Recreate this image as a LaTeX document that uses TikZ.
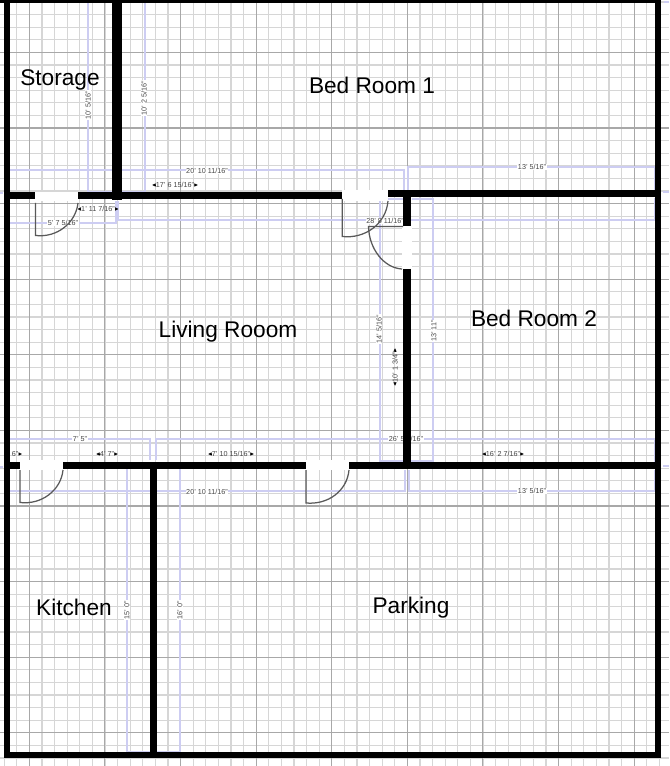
\documentclass[tikz,border=0pt]{standalone}
\usepackage{fontspec}
\setmainfont{Liberation Sans}
\usepackage{xcolor}
\usetikzlibrary{positioning,arrows.meta}
\definecolor{dimblue}{RGB}{205,205,242}
\definecolor{dimtext}{RGB}{70,70,70}

\begin{document}
\begin{tikzpicture}[
  x=0.02cm, y=-0.02cm,
  minorline/.style={draw=gray!32, line width=0.24mm},
  majorline/.style={draw=gray!68, line width=0.22mm},
  dimline/.style={draw=dimblue, line width=0.24mm},
  dimlabel/.style={fill=white, inner sep=0.3pt, text=dimtext, font=\fontsize{4.1}{5}\selectfont},
  dimtag/.style={dimlabel, fill=none},
  dimtip/.style={-{Latex[length=0.7mm,width=0.7mm]}, black, line width=0.1mm},
  wall/.style={draw=black, line width=1.4mm},
  opening/.style={fill=white, draw=none},
  swing/.style={draw=gray!70!black, line width=0.25mm},
  room/.style={font=\fontsize{12.9}{15}\selectfont, inner sep=0pt}
]
  \useasboundingbox (0,0) rectangle (669,766);
  \clip (0,0) rectangle (669,766);
  \fill[white] (0,0) rectangle (669,766);

  % grid
  \foreach \k in {0,...,53} {
    \draw[minorline] ({4.1+12.6*\k},0) -- ({4.1+12.6*\k},766);
  }
  \foreach \k in {0,...,60} {
    \draw[minorline] (0,{2+12.6*\k}) -- (669,{2+12.6*\k});
  }
  \foreach \k in {0,...,8} {
    \draw[majorline] ({29.3+75.6*\k},0) -- ({29.3+75.6*\k},766);
  }
  \foreach \k in {0,...,9} {
    \draw[majorline] (0,{52.4+75.6*\k}) -- (669,{52.4+75.6*\k});
  }

  % dimension lines
  \draw[dimline] (115,2) -- (88,2) -- (88,192) -- (112,192);
  \draw[dimline] (122,2) -- (145,2) -- (145,192) -- (122,192);
  \draw[dimline] (10,170) -- (115,170);
  \draw[dimline] (122,170) -- (404,170) -- (404,190);
  \draw[dimline] (408,190) -- (408,167) -- (655,167) -- (655,190);
  \draw[dimline] (10,223) -- (116,223) -- (116,201);
  \draw[dimline] (118,201) -- (118,220) -- (655,220) -- (655,198);
  \draw[dimline] (403,199) -- (380,199) -- (380,461) -- (403,461);
  \draw[dimline] (412,199) -- (433,199) -- (433,461) -- (411,461);
  \draw[dimline] (10,439) -- (150,439) -- (150,460);
  \draw[dimline] (156,460) -- (156,439) -- (655,439) -- (655,462);
  \draw[dimline] (10,491) -- (405,491) -- (405,470);
  \draw[dimline] (409,470) -- (409,491) -- (655,491) -- (655,470);
  \draw[dimline] (150,468) -- (127,468) -- (127,752) -- (150,752);
  \draw[dimline] (157,468) -- (180,468) -- (180,752) -- (157,752);
  \draw[dimline] (664,2) -- (669,2);
  \draw[dimline] (663,192) -- (669,192);
  \draw[dimline] (663,466) -- (669,466);
  \draw[dimline] (0,193) -- (3,193);
  \draw[dimline] (0,467) -- (3,467);

  % dimension labels
  \node[dimlabel, rotate=90] (storeh) at (88,105) {10' 5/16"};
  \node[dimlabel, rotate=90] (bedoneh) at (144,98) {10' 2 5/16"};
  \node[dimlabel] (topw) at (207,171) {20' 10 11/16"};
  \node[dimlabel] (bedonew) at (532,167) {13' 5/16"};
  \node[dimlabel] (storew) at (63,223) {5' 7 5/16"};
  \node[dimlabel] (midw) at (385,221) {28' 8 11/16"};
  \node[dimlabel, rotate=90] (livh) at (379,329) {14' 5/16"};
  \node[dimlabel, rotate=90] (bedtwoh) at (434,331) {13' 11"};
  \node[dimlabel] (lowa) at (80,439) {7' 5"};
  \node[dimlabel] (lowb) at (406,439) {26' 5 7/16"};
  \node[dimlabel] (lowc) at (207,492) {20' 10 11/16"};
  \node[dimlabel] (lowd) at (532,491) {13' 5/16"};
  \node[dimlabel, rotate=90] (kith) at (127,610) {15' 0"};
  \node[dimlabel, rotate=90] (parkh) at (180,610) {16' 0"};

  % measured spans
  \node[dimtag] (spana) at (175,185) {17' 6 15/16"};
  \node[dimtag] (spanb) at (98,209) {1' 11 7/16"};
  \node[dimtag] (spanc) at (15,454) {6"};
  \node[dimtag] (spand) at (107,454) {4' 7"};
  \node[dimtag] (spane) at (231,454) {7' 10 15/16"};
  \node[dimtag] (spanf) at (503,454) {16' 2 7/16"};
  \node[dimtag, rotate=90] (spang) at (395,367) {10' 1 3/4"};
  \foreach \n in {spana,spanb,spand,spane,spanf} {
    \draw[dimtip] (\n.west) -- ++(-3,0);
    \draw[dimtip] (\n.east) -- ++(3,0);
  }
  \draw[dimtip] (spanc.east) -- ++(3,0);
  \draw[dimtip] (spang.east) -- ++(0,-3);
  \draw[dimtip] (spang.west) -- ++(0,3);

  % door openings
  \fill[opening] (35,192) rectangle (78,201);
  \fill[opening] (342,190) rectangle (388,201);
  \fill[opening] (402,226) rectangle (412,269);
  \fill[opening] (20,460) rectangle (63,470);
  \fill[opening] (306,460) rectangle (349,470);

  % walls
  \draw[wall, line width=1.2mm] (7,-3) -- (7,757);
  \draw[wall, line width=1.2mm] (-3,0) -- (661,0);
  \draw[wall, line width=1.2mm] (658,-3) -- (658,757);
  \draw[wall, line width=1.2mm] (4,754.5) -- (661,754.5);
  \draw[wall, line width=2mm] (117,0) -- (117,200);
  \draw[wall] (4,196) -- (35,196);
  \draw[wall] (78,196) -- (342,196);
  \draw[wall] (388,194) -- (658,194);
  \draw[wall, line width=1.6mm] (407,190.5) -- (407,226);
  \draw[wall, line width=1.6mm] (407,269) -- (407,469);
  \draw[wall] (4,465.5) -- (20,465.5);
  \draw[wall] (63,465.5) -- (306,465.5);
  \draw[wall] (349,465.5) -- (661,465.5);
  \draw[wall] (153.5,462) -- (153.5,757);

  % door swings
  \draw[swing] (35.5,203) -- (35.5,235.5) .. controls (58,238) and (76,222) .. (78,203);
  \draw[swing] (342.3,199) -- (342.3,236.5) .. controls (365,239) and (386,224) .. (388,201);
  \draw[swing] (403,226.5) -- (368.5,226.5) .. controls (369,249) and (384,268) .. (402,269);
  \draw[swing] (20,470) -- (20,502.5) .. controls (42,505) and (61,490) .. (63,470);
  \draw[swing] (306,470) -- (306,503) .. controls (328,505) and (347,491) .. (349,470);

  % rooms
  \node[room] (storage) at (60,80) {Storage};
  \node[room] (bedone) at (372,85) {Bed Room 1};
  \node[room] (living) at (228,332) {Living Rooom};
  \node[room] (bedtwo) at (534,318) {Bed Room 2};
  \node[room] (kitchen) at (74,607) {Kitchen};
  \node[room] (parking) at (411,608) {Parking};
\end{tikzpicture}
\end{document}
